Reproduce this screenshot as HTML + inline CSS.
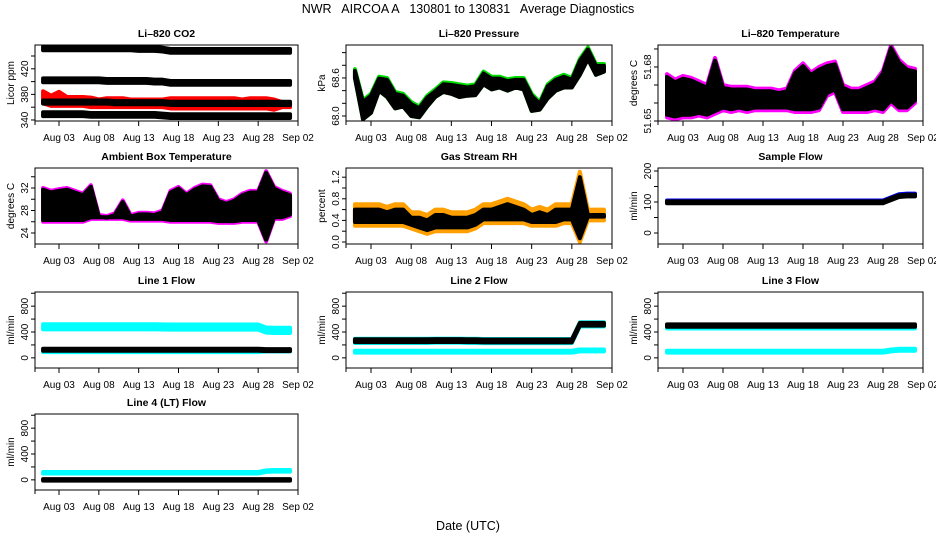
<!DOCTYPE html>
<html><head><meta charset="utf-8"><style>
html,body{margin:0;padding:0;background:#fff;}
svg{display:block;font-family:"Liberation Sans",Arial,sans-serif;}
</style></head><body>
<svg id="chart" width="936" height="540" viewBox="0 0 936 540">
<text x="468" y="13" text-anchor="middle" font-size="12.5" style="white-space:pre">NWR   AIRCOA A   130801 to 130831   Average Diagnostics</text>
<text x="468" y="530" text-anchor="middle" font-size="12.5">Date (UTC)</text>
</svg>
<script>
const days=[1,2,3,4,5,6,7,8,9,10,11,12,13,14,15,16,17,18,19,20,21,22,23,24,25,26,27,28,29,30,31,32];
const tickDays=[3,8,13,18,23,28,33];
const tickLabels=["Aug 03","Aug 08","Aug 13","Aug 18","Aug 23","Aug 28","Sep 02"];
// CO2
const co2A=[452,452,452,452,452,452,452,452,452,452,452,452,451,451,451,450,448,448,448,448,448,448,448,448,448,448,448,448,448,448,448,448];
const co2B=[402,402,402,402,402,402,402,402,401,401,401,401,401,401,400,400,398,398,398,398,398,398,398,398,398,398,398,398,398,398,398,398];
const co2C=[368,368,368,368,368,368,368,368,368,367,367,367,367,367,367,367,366,366,366,366,366,366,366,366,366,366,366,366,366,366,366,366];
const co2D=[349,349,349,349,349,349,348,348,348,348,348,348,348,348,348,347,346,346,346,346,346,346,346,346,346,346,346,346,346,346,346,346];
const co2RedHi=[385,378,384,376,376,376,375,372,374,374,374,372,372,372,372,372,374,374,374,374,374,374,374,374,374,372,374,374,374,372,368,368];
const co2RedLo=[366,362,362,362,362,362,360,360,360,360,360,360,360,360,360,360,358,358,358,358,358,358,358,358,358,358,358,358,358,356,360,360];
// Pressure
const presTop=[68.74,68.25,68.35,68.62,68.6,68.38,68.35,68.22,68.15,68.32,68.42,68.53,68.52,68.5,68.48,68.5,68.7,68.62,68.62,68.58,68.6,68.6,68.35,68.22,68.5,68.6,68.65,68.6,68.9,69.08,68.82,68.82];
const presBot=[68.6,67.95,68.05,68.4,68.3,68.12,68.15,68.0,67.98,68.15,68.3,68.38,68.35,68.3,68.32,68.33,68.5,68.42,68.45,68.4,68.45,68.42,68.08,68.1,68.28,68.4,68.45,68.45,68.65,68.9,68.65,68.7];
// Li-820 temperature
const tempHi=[51.676,51.673,51.675,51.674,51.672,51.670,51.685,51.670,51.669,51.669,51.669,51.668,51.668,51.668,51.667,51.668,51.678,51.682,51.677,51.680,51.682,51.683,51.670,51.668,51.668,51.670,51.672,51.678,51.692,51.684,51.680,51.679];
const tempLo=[51.652,51.651,51.652,51.652,51.653,51.652,51.654,51.656,51.655,51.656,51.655,51.656,51.656,51.656,51.656,51.656,51.655,51.655,51.655,51.656,51.664,51.666,51.655,51.655,51.655,51.655,51.656,51.655,51.660,51.656,51.656,51.660];
// Ambient
const ambHi=[32,31.5,31.8,32,31.5,31,32.5,27.2,27,27.5,29.8,27.2,27.6,27.6,27.5,28,31.5,32.2,31,32,32.6,32.5,30,29.5,30,31,31.5,31.5,35,32.2,31.5,31];
const ambLo=[26,26,26,26,26,26,26.5,26.5,26.5,26.5,26.5,26.2,26.2,26.2,26.2,26.2,26,26,26,26,26,26,25.8,25.8,25.8,26,26,26,22.5,26.5,26.5,27];
// RH
const rhHi=[0.7,0.7,0.7,0.7,0.65,0.7,0.7,0.55,0.55,0.5,0.6,0.6,0.55,0.55,0.55,0.6,0.7,0.7,0.75,0.8,0.75,0.7,0.6,0.65,0.6,0.7,0.7,0.7,1.3,0.6,0.6,0.6];
const rhLo=[0.3,0.3,0.3,0.3,0.3,0.3,0.3,0.25,0.2,0.15,0.2,0.2,0.2,0.2,0.2,0.25,0.35,0.35,0.35,0.35,0.35,0.35,0.3,0.3,0.3,0.3,0.35,0.35,0.0,0.4,0.4,0.4];
// Flows
const sampleFlow=[100,100,100,100,100,100,100,100,100,100,100,100,100,100,100,100,100,100,100,100,100,100,100,100,100,100,100,100,110,120,122,122];
const line1Cyan=[480,480,480,480,480,480,480,480,480,480,480,480,480,480,480,478,476,476,476,476,476,476,476,476,476,476,476,476,430,425,425,425];
const line1Black=[125,125,125,125,125,125,125,125,125,125,125,125,125,125,125,125,125,125,125,125,125,125,125,125,125,125,125,125,120,120,120,120];
const line1Low=[100,100,100,100,100,100,100,100,100,100,100,100,100,100,100,100,100,100,100,100,100,100,100,100,100,100,100,100,110,110,110,110];
const line2Black=[265,265,265,265,265,265,265,265,265,265,268,268,268,268,265,265,262,262,262,262,262,262,262,262,262,262,262,262,520,520,520,520];
const line2Low=[95,95,95,95,95,95,95,95,95,95,95,95,95,95,95,95,95,95,95,95,95,95,95,95,95,95,95,95,115,115,115,115];
const line3Black=[500,500,500,500,500,500,500,500,500,500,500,500,500,500,500,500,500,500,500,500,500,500,500,500,500,500,500,500,500,500,500,500];
const line3Low=[95,95,95,95,95,95,95,95,95,95,95,95,95,95,95,95,95,95,95,95,95,95,95,95,95,95,95,95,115,125,125,125];
const line4Cyan=[110,110,110,110,110,110,110,110,110,110,110,110,110,110,110,110,110,110,110,110,110,110,110,110,110,110,110,110,135,140,140,140];
const line4Black=[0,0,0,0,0,0,0,0,0,0,0,0,0,0,0,0,0,0,0,0,0,0,0,0,0,0,0,0,0,0,0,0];

const NS="http://www.w3.org/2000/svg";
const svg=document.getElementById('chart');
const cols=[{l:35,r:298,a:59,b:298},{l:346,r:612,a:371,b:612},{l:658,r:923,a:683,b:923}];
const rowTops=[45,168,292,414];
const H=76;
const FS=10;
function mk(tag,attrs,parent){const e=document.createElementNS(NS,tag);for(const k in attrs)e.setAttribute(k,attrs[k]);(parent||svg).appendChild(e);return e;}
function panel(name,title,c,r,ymin,ymax,ticks,labels,ylab,dec){
  const col=cols[c],top=rowTops[r],bot=top+H;
  const g=mk('g',{});
  
  
  const xs=d=>col.a+(d-3)*(col.b-col.a)/30;
  const ys=v=>bot-(v-ymin)/(ymax-ymin)*H;
  const t=mk('text',{x:(col.l+col.r)/2,y:top-8,'text-anchor':'middle','font-size':10.5,'font-weight':'bold'},g);t.textContent=title;
  
  
  const plot=mk('g',{},g);
  
  
  const box=mk('rect',{x:col.l,y:top,width:col.r-col.l,height:H,fill:'none',stroke:'#000','stroke-width':1},g);
  
  
  const xa=mk('g',{},g);
  
  
  mk('line',{x1:col.l,x2:col.r,y1:bot,y2:bot,stroke:'#000'},xa);
  mk('line',{x1:col.l,x2:col.l,y1:bot,y2:bot+4,stroke:'#000'},xa);
  tickDays.forEach((d,i)=>{const x=xs(d);mk('line',{x1:x,x2:x,y1:bot,y2:bot+5,stroke:'#000'},xa);
    const tl=mk('text',{x:x,y:bot+20,'text-anchor':'middle','font-size':FS},xa);tl.textContent=tickLabels[i];
    
    });
  const ya=mk('g',{},g);
  
  
  ticks.forEach(v=>{const y=ys(v);if(y<top-0.5||y>bot+0.5)return;mk('line',{x1:col.l-4,x2:col.l,y1:y,y2:y,stroke:'#000'},ya);
    if(labels.includes(v)){const tl=mk('text',{x:col.l-7,y:y,'text-anchor':'middle','font-size':FS,transform:`rotate(-90 ${col.l-7} ${y})`},ya);tl.textContent=v.toFixed(dec);
      
      }});
  const yl=mk('text',{x:col.l-21,y:(top+bot)/2,'text-anchor':'middle','font-size':FS,transform:`rotate(-90 ${col.l-21} ${(top+bot)/2})`},ya);yl.textContent=ylab;
  
  
  const clip=mk('clipPath',{id:'clip-'+name},g);mk('rect',{x:col.l,y:top,width:col.r-col.l,height:H},clip);
  plot.setAttribute('clip-path','url(#clip-'+name+')');
  return {band(lo,hi,color,nm){let p=[];days.forEach((d,i)=>p.push(xs(d)+','+ys(hi[i])));for(let i=days.length-1;i>=0;i--)p.push(xs(days[i])+','+ys(lo[i]));
      const e=mk('polygon',{points:p.join(' '),fill:color,stroke:color,'stroke-width':4,'stroke-linejoin':'round'},plot);
      
      }};
}
const off=(a,k)=>a.map(v=>v+k);
let p;
p=panel('co2','Li\u2013820 CO2',0,0,338.4,457.2,[340,360,380,400,420,440],[340,380,420],'Licor ppm',0);
p.band(off(co2A,-3),off(co2A,3),'#000','co2-series-a');
p.band(off(co2B,-3),off(co2B,3),'#000','co2-series-b');
p.band(co2RedLo,co2RedHi,'#ff0000','co2-red-series');
p.band(off(co2C,-2.5),off(co2C,2.5),'#000','co2-series-c');
p.band(off(co2D,-3),off(co2D,3),'#000','co2-series-d');
p=panel('pressure','Li\u2013820 Pressure',1,0,67.921,69.12,[68,68.2,68.4,68.6,68.8,69],[68,68.6],'kPa',1);
p.band(presBot,presTop,'#00dd00','pressure-green-series');
p.band(presBot,off(presTop,-0.03),'#000','pressure-black-series');
p=panel('li820-temp','Li\u2013820 Temperature',2,0,51.65,51.6922,[51.65,51.66,51.67,51.68,51.69],[51.65,51.68],'degrees C',2);
p.band(tempLo,tempHi,'#ff00ff','temp-magenta-series');
p.band(off(tempLo,0.0015),off(tempHi,-0.0015),'#000','temp-black-series');
p=panel('ambient','Ambient Box Temperature',0,1,22.04,35.56,[24,26,28,30,32,34],[24,28,32],'degrees C',0);
p.band(ambLo,ambHi,'#ff00ff','ambient-magenta-series');
p.band(off(ambLo,0.3),off(ambHi,-0.3),'#000','ambient-black-series');
p=panel('rh','Gas Stream RH',1,1,-0.037,1.37,[0,0.2,0.4,0.6,0.8,1,1.2],[0,0.4,0.8,1.2],'percent',1);
p.band(rhLo,rhHi,'#ffa000','rh-orange-series');
p.band(off(rhLo,0.07),off(rhHi,-0.1),'#000','rh-black-series');
p=panel('sample-flow','Sample Flow',2,1,-35.5,209.7,[0,50,100,150,200],[0,100,200],'ml/min',0);
p.band(off(sampleFlow,-3),off(sampleFlow,5),'#0000ff','sample-flow-blue-series');
p.band(off(sampleFlow,-4),off(sampleFlow,2),'#000','sample-flow-black-series');
const fT=[0,200,400,600,800,1000],fL=[0,400,800];
p=panel('line1','Line 1 Flow',0,2,-157,1019,fT,fL,'ml/min',0);
p.band(off(line1Cyan,-40),off(line1Cyan,40),'#00ffff','line1-cyan-series');
p.band(off(line1Low,-12),off(line1Low,12),'#00ffff','line1-cyan-low-series');
p.band(off(line1Black,-15),off(line1Black,15),'#000','line1-black-series');
p=panel('line2','Line 2 Flow',1,2,-157,1019,fT,fL,'ml/min',0);
p.band(off(line2Black,-35),off(line2Black,30),'#00ffff','line2-cyan-series');
p.band(off(line2Low,-15),off(line2Low,15),'#00ffff','line2-cyan-low-series');
p.band(off(line2Black,-22),off(line2Black,22),'#000','line2-black-series');
p=panel('line3','Line 3 Flow',2,2,-157,1019,fT,fL,'ml/min',0);
p.band(off(line3Black,-45),off(line3Black,15),'#00ffff','line3-cyan-series');
p.band(off(line3Low,-15),off(line3Low,15),'#00ffff','line3-cyan-low-series');
p.band(off(line3Black,-18),off(line3Black,18),'#000','line3-black-series');
p=panel('line4','Line 4 (LT) Flow',0,3,-157,1019,fT,fL,'ml/min',0);
p.band(off(line4Cyan,-12),off(line4Cyan,12),'#00ffff','line4-cyan-series');
p.band(off(line4Black,-12),off(line4Black,12),'#000','line4-black-series');
</script>
</body></html>
